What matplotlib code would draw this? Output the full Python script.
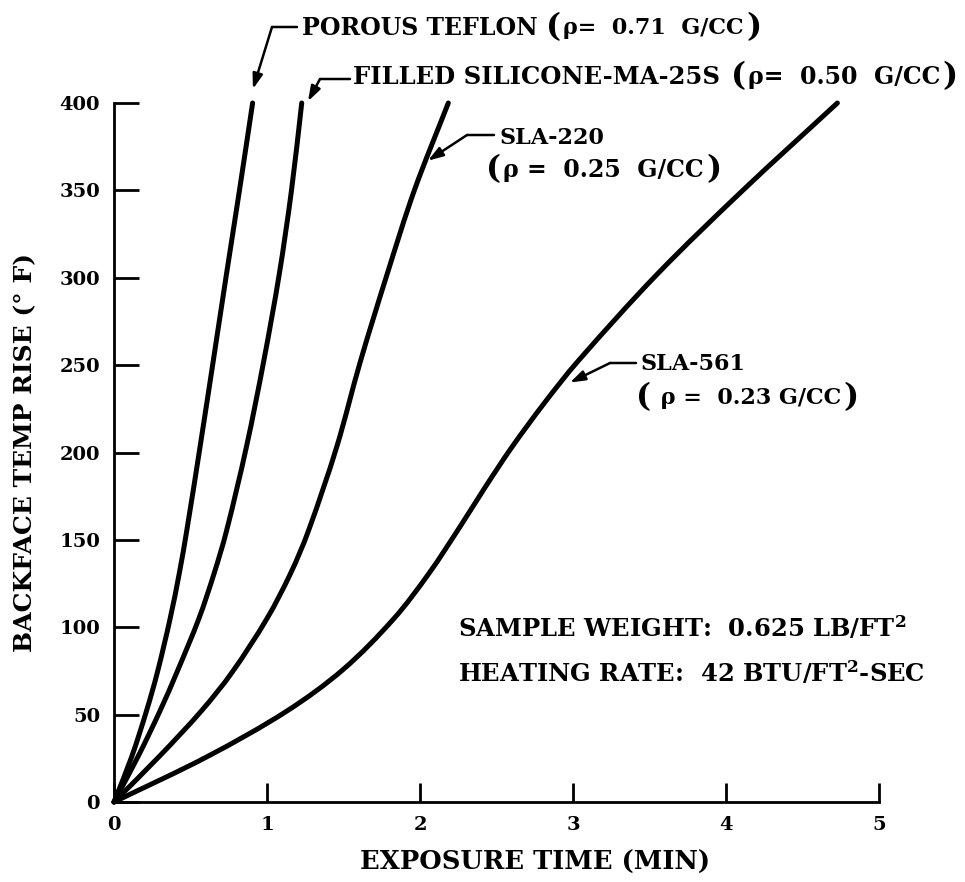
import numpy as np
import matplotlib
matplotlib.use("Agg")
import matplotlib.pyplot as plt
from matplotlib.path import Path
from matplotlib.patches import PathPatch

plt.rcParams['font.family'] = ['DejaVu Serif']
plt.rcParams['font.weight'] = 'bold'
plt.rcParams['mathtext.fontset'] = 'dejavuserif'
plt.rcParams['mathtext.default'] = 'bf'

# curves (time in min, temp rise in F)
teflon_t = [0, 0.116, 0.212, 0.283, 0.367, 0.427, 0.475, 0.562, 0.648, 0.735, 0.82, 0.906]
teflon_T = [0, 26, 52, 74, 105, 131, 155, 203, 252, 302, 350, 400]
silicone_t = [0, 0.157, 0.30, 0.41, 0.555, 0.655, 0.735, 0.865, 0.978, 1.08, 1.16, 1.227]
silicone_T = [0, 26, 52, 74, 105, 131, 155, 203, 252, 302, 350, 400]
sla220_t = [0, 0.295, 0.57, 0.77, 1.00, 1.155, 1.27, 1.455, 1.61, 1.785, 1.963, 2.185]
sla220_T = [0, 26, 52, 74, 105, 131, 155, 203, 252, 302, 350, 400]
sla561_t = [0, 0.61, 1.129, 1.5, 1.83, 2.06, 2.265, 2.425, 2.60, 2.81, 3.03, 3.55, 4.11, 4.728]
sla561_T = [0, 26, 52, 76, 105, 131, 158, 180, 203, 228, 252, 302, 350, 400]

x_ticks = [0, 1, 2, 3, 4, 5]
y_ticks = [0, 50, 100, 150, 200, 250, 300, 350, 400]

W, H = 965, 882
fig = plt.figure(figsize=(W / 100, H / 100), dpi=100)
ax = fig.add_axes([114 / W, 80 / H, 765 / W, 699 / H])


def smooth_path(x, y):
    # chord-length catmull-rom bezier through the read points
    pts = np.column_stack([x, y]).astype(float)
    scale = np.array([153.0, 1.7475])          # roughly px per unit
    d = np.linalg.norm(np.diff(pts * scale, axis=0), axis=1)
    s = np.concatenate([[0], np.cumsum(d)])
    n = len(pts)
    m = np.zeros_like(pts)
    m[0] = (pts[1] - pts[0]) / (s[1] - s[0])
    m[-1] = (pts[-1] - pts[-2]) / (s[-1] - s[-2])
    for i in range(1, n - 1):
        m[i] = (pts[i + 1] - pts[i - 1]) / (s[i + 1] - s[i - 1])
    verts = [pts[0]]
    codes = [Path.MOVETO]
    for i in range(n - 1):
        h = s[i + 1] - s[i]
        verts += [pts[i] + m[i] * h / 3, pts[i + 1] - m[i + 1] * h / 3, pts[i + 1]]
        codes += [Path.CURVE4] * 3
    return Path(verts, codes)


for t, T in [(teflon_t, teflon_T), (silicone_t, silicone_T),
             (sla220_t, sla220_T), (sla561_t, sla561_T)]:
    ax.add_patch(PathPatch(smooth_path(t, T), fill=False, edgecolor='black',
                           lw=3.6, capstyle='round', joinstyle='round',
                           clip_on=False))

ax.set_xlim(0, 5)
ax.set_ylim(0, 400)
ax.set_xticks(x_ticks)
ax.set_yticks(y_ticks)
ax.spines['top'].set_visible(False)
ax.spines['right'].set_visible(False)
for s in ['left', 'bottom']:
    ax.spines[s].set_linewidth(2)
ax.tick_params(axis='x', direction='in', length=14, width=2, pad=10, labelsize=14)
ax.tick_params(axis='y', direction='in', length=18, width=2, pad=10, labelsize=14)
for lab in ax.get_xticklabels() + ax.get_yticklabels():
    lab.set_fontweight('bold')

ax.set_xlabel('EXPOSURE TIME (MIN)', fontsize=18.5, fontweight='bold')
ax.xaxis.set_label_coords(0.55, -0.068)
ax.set_ylabel('BACKFACE TEMP RISE (° F)', fontsize=18, fontweight='bold', labelpad=16)


def ftxt(px, py, s, size=16):
    return fig.text(px / W, 1 - py / H, s, fontsize=size, fontweight='bold',
                    ha='left', va='center')


def chain(prev, s, gap, size=16):
    return ax.annotate(s, xy=(1, 0.5), xycoords=prev, xytext=(gap, 0),
                       textcoords='offset points', ha='left', va='center',
                       fontsize=size, fontweight='bold', annotation_clip=False)


def paren_group(first, inner, size=16):
    t = chain(first, inner, 1, size)
    chain(t, ')', 2, 23)
    return t


# curve labels
t1 = ftxt(302, 28, 'POROUS TEFLON', 17)
p1 = chain(t1, '(', 6, 23)
paren_group(p1, 'ρ=  0.71  G/CC')

t2 = ftxt(353, 77, 'FILLED SILICONE-MA-25S', 17.5)
p2 = chain(t2, '(', 8, 23)
paren_group(p2, 'ρ=  0.50  G/CC', 17)

ftxt(500, 138, 'SLA-220')
p3 = ftxt(486, 170, '(', 23)
paren_group(p3, 'ρ =  0.25  G/CC', 17)

ftxt(640, 364, 'SLA-561')
p4 = ftxt(636, 398, '(', 23)
paren_group(p4, ' ρ =  0.23 G/CC')

ftxt(458, 628, 'SAMPLE WEIGHT:  0.625 LB/FT$^2$', size=17.5)
ftxt(458, 673, 'HEATING RATE:  42 BTU/FT$^2$-SEC', size=17.5)


def pointer(text_px, corner_px, tip):
    p0 = (text_px[0], H - text_px[1])
    p1 = (corner_px[0], H - corner_px[1])
    ax.annotate('', xy=p1, xycoords='figure pixels', xytext=p0,
                textcoords='figure pixels', annotation_clip=False,
                arrowprops=dict(arrowstyle='-', lw=1.8, color='black',
                                shrinkA=0, shrinkB=0))
    ax.annotate('', xy=tip, xycoords='data', xytext=p1,
                textcoords='figure pixels', annotation_clip=False,
                arrowprops=dict(arrowstyle='-|>,head_length=0.9,head_width=0.3',
                                lw=1.8, color='black', shrinkA=0, shrinkB=0))


pointer((297, 27), (272, 27), (0.908, 408))
pointer((350, 79), (320, 79), (1.268, 401))
pointer((494, 135), (467, 135), (2.052, 367))
pointer((636, 363), (610, 363), (2.98, 240))

fig.savefig('out.png', dpi=100)
